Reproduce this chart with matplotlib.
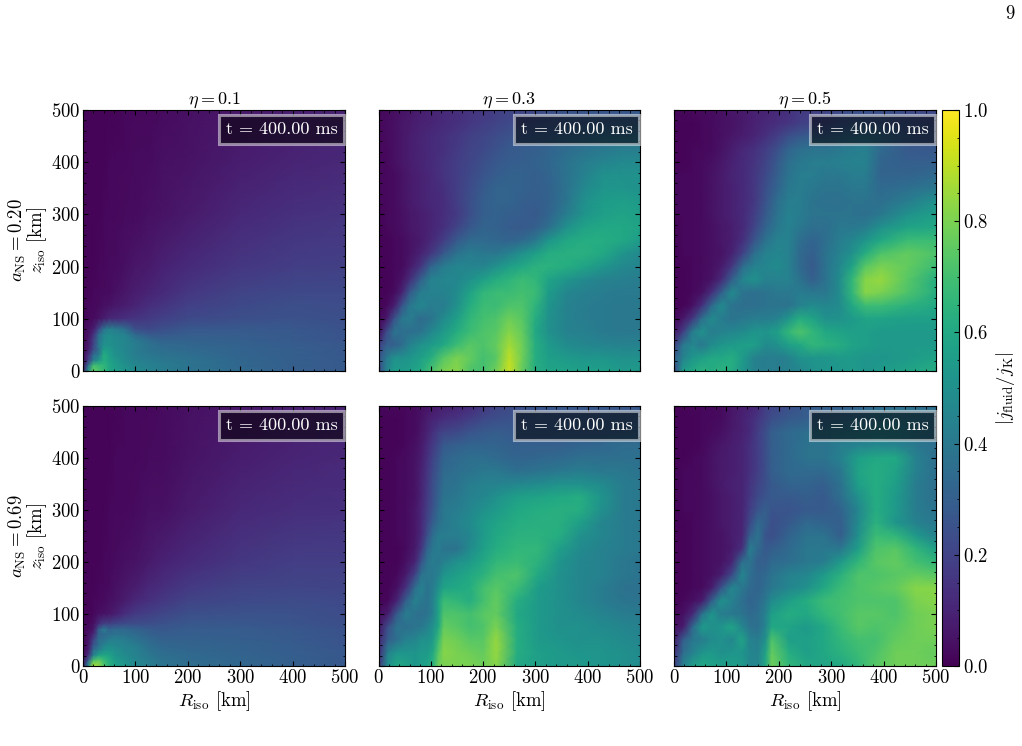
import numpy as np
import matplotlib
matplotlib.use("Agg")
import matplotlib.pyplot as plt
from matplotlib.ticker import MultipleLocator

plt.rcParams['font.family'] = ['cmr10', 'DejaVu Serif']
plt.rcParams['mathtext.fontset'] = 'cm'
plt.rcParams['axes.formatter.use_mathtext'] = True
plt.rcParams['axes.unicode_minus'] = False

# sample positions, km (read along the features, so they differ per panel)
z_fine = [500, 475, 450, 425, 400, 375, 350, 325, 300, 275, 250, 225, 200, 175, 150, 125, 100, 75, 50, 25, 0]
r_a020_eta03 = [0, 15, 30, 45, 60, 80, 100, 125, 150, 175, 200, 225, 250, 275, 300, 325, 360, 395, 430, 465, 500]
r_a020_eta05 = [0, 17, 35, 53, 72, 90, 110, 132, 153, 175, 197, 218, 240, 265, 290, 315, 340, 365, 395, 445, 500]
r_a069_eta03 = [0, 18, 35, 52, 70, 82, 93, 104, 115, 125, 150, 175, 200, 225, 265, 305, 345, 385, 425, 465, 500]
r_a069_eta05 = [0, 18, 36, 54, 72, 90, 110, 130, 145, 160, 175, 187, 220, 253, 286, 319, 352, 385, 423, 461, 500]
r_low = [0, 10, 20, 30, 40, 50, 60, 80, 100, 125, 150, 200, 300, 400, 500]
z_low = [500, 400, 300, 200, 150, 125, 100, 80, 70, 60, 50, 40, 30, 20, 10, 0]

# |j_fluid/j_K| in percent, rows go from the top of the panel down
a020_eta01 = [
    [1, 1, 1, 1, 1, 1, 1, 2, 2, 2, 3, 4, 6, 8, 9],
    [1, 1, 1, 1, 1, 2, 2, 2, 3, 3, 4, 5, 8, 10, 11],
    [1, 1, 1, 1, 2, 2, 2, 3, 3, 4, 5, 7, 11, 14, 15],
    [1, 1, 1, 2, 2, 3, 3, 4, 6, 7, 9, 12, 16, 18, 19],
    [1, 1, 2, 2, 3, 3, 4, 6, 8, 10, 12, 16, 20, 22, 22],
    [1, 2, 2, 3, 4, 5, 6, 8, 10, 13, 15, 19, 22, 24, 23],
    [1, 2, 3, 5, 8, 11, 12, 14, 15, 17, 19, 22, 24, 25, 24],
    [2, 4, 8, 22, 38, 44, 42, 36, 24, 22, 24, 27, 28, 27, 25],
    [2, 5, 14, 34, 46, 48, 46, 44, 33, 28, 27, 29, 29, 28, 26],
    [2, 6, 18, 38, 48, 50, 48, 46, 40, 34, 31, 31, 30, 28, 26],
    [3, 6, 20, 40, 50, 50, 48, 46, 42, 38, 34, 33, 31, 29, 27],
    [3, 8, 24, 36, 56, 54, 50, 46, 42, 38, 36, 34, 32, 30, 27],
    [3, 14, 36, 42, 62, 56, 50, 47, 42, 40, 38, 36, 32, 30, 27],
    [3, 18, 42, 52, 62, 58, 54, 48, 44, 42, 40, 38, 33, 30, 28],
    [4, 36, 70, 68, 66, 60, 56, 50, 46, 44, 42, 38, 33, 30, 28],
    [10, 50, 76, 72, 66, 60, 56, 52, 48, 44, 42, 38, 34, 30, 28],
]
a069_eta01 = [
    [1, 1, 1, 1, 1, 1, 1, 2, 2, 2, 3, 4, 6, 8, 9],
    [1, 1, 1, 1, 1, 1, 2, 2, 2, 3, 3, 5, 8, 10, 11],
    [1, 1, 1, 1, 1, 2, 2, 2, 3, 4, 4, 7, 11, 13, 14],
    [1, 1, 1, 1, 2, 2, 3, 4, 5, 7, 9, 12, 16, 18, 18],
    [1, 1, 1, 2, 2, 3, 4, 6, 8, 11, 13, 17, 20, 21, 20],
    [1, 1, 2, 2, 3, 4, 5, 8, 11, 14, 16, 20, 22, 23, 22],
    [1, 1, 2, 4, 5, 6, 8, 13, 17, 19, 21, 24, 25, 25, 23],
    [2, 2, 4, 14, 20, 20, 22, 24, 24, 24, 25, 27, 27, 26, 24],
    [2, 3, 6, 30, 42, 32, 34, 34, 32, 29, 27, 29, 29, 27, 25],
    [2, 4, 12, 32, 34, 36, 38, 37, 35, 31, 29, 30, 29, 28, 25],
    [2, 5, 20, 36, 38, 42, 44, 42, 38, 34, 31, 31, 30, 28, 26],
    [2, 6, 26, 36, 44, 48, 46, 44, 42, 36, 33, 32, 31, 29, 26],
    [2, 8, 36, 44, 50, 52, 50, 46, 44, 38, 35, 33, 31, 29, 27],
    [3, 14, 44, 58, 60, 58, 52, 48, 44, 40, 36, 34, 32, 30, 27],
    [4, 30, 72, 76, 68, 62, 56, 50, 46, 42, 38, 35, 33, 30, 27],
    [10, 50, 88, 84, 72, 64, 58, 52, 47, 43, 39, 36, 33, 30, 27],
]
a020_eta03 = [
    [2, 3, 4, 5, 6, 8, 10, 12, 13, 15, 16, 18, 20, 20, 22, 24, 25, 26, 26, 26, 27],
    [2, 3, 4, 6, 7, 9, 10, 12, 14, 16, 18, 20, 22, 23, 24, 25, 27, 28, 29, 30, 30],
    [2, 3, 4, 6, 8, 10, 12, 14, 16, 19, 21, 23, 25, 27, 28, 29, 31, 33, 35, 35, 36],
    [2, 2, 4, 6, 8, 10, 12, 14, 17, 20, 22, 25, 28, 29, 30, 32, 35, 38, 40, 42, 42],
    [2, 2, 4, 6, 8, 10, 12, 15, 18, 21, 24, 27, 29, 30, 31, 33, 38, 42, 45, 47, 48],
    [2, 2, 3, 5, 7, 9, 11, 15, 18, 22, 26, 29, 31, 31, 30, 32, 38, 44, 50, 50, 50],
    [2, 2, 3, 5, 7, 9, 11, 14, 18, 23, 28, 32, 32, 31, 30, 31, 38, 47, 52, 52, 50],
    [2, 2, 3, 5, 7, 9, 11, 13, 18, 24, 30, 32, 32, 30, 29, 31, 39, 50, 55, 56, 54],
    [1, 2, 3, 4, 6, 8, 10, 13, 17, 24, 30, 31, 30, 29, 28, 32, 42, 52, 56, 58, 56],
    [1, 2, 3, 4, 6, 8, 10, 14, 20, 27, 32, 31, 29, 28, 30, 36, 50, 58, 60, 60, 58],
    [1, 1, 2, 3, 5, 7, 11, 18, 28, 34, 34, 33, 32, 34, 40, 52, 60, 62, 62, 60, 55],
    [1, 1, 2, 3, 5, 9, 16, 28, 38, 42, 40, 40, 44, 50, 56, 62, 63, 63, 60, 52, 47],
    [1, 1, 2, 3, 7, 15, 32, 42, 46, 45, 45, 50, 56, 60, 64, 64, 62, 58, 52, 47, 45],
    [1, 1, 2, 5, 13, 30, 44, 46, 46, 50, 56, 62, 65, 68, 66, 58, 52, 47, 44, 43, 42],
    [1, 1, 3, 10, 28, 42, 44, 44, 48, 58, 66, 68, 68, 70, 68, 55, 46, 43, 42, 41, 41],
    [1, 2, 8, 26, 40, 46, 42, 42, 50, 62, 68, 68, 72, 72, 65, 52, 44, 42, 41, 40, 40],
    [2, 6, 25, 40, 42, 35, 38, 48, 56, 66, 70, 72, 78, 74, 62, 50, 44, 42, 41, 40, 40],
    [3, 22, 38, 36, 36, 38, 46, 54, 62, 68, 72, 74, 82, 76, 60, 50, 44, 43, 41, 40, 40],
    [18, 30, 30, 35, 44, 50, 54, 60, 68, 74, 72, 76, 86, 78, 62, 54, 48, 46, 45, 44, 44],
    [25, 40, 50, 50, 52, 56, 62, 74, 80, 76, 70, 74, 90, 78, 62, 56, 54, 52, 52, 50, 50],
    [20, 45, 55, 55, 56, 60, 70, 80, 82, 72, 70, 78, 92, 76, 62, 58, 58, 56, 56, 54, 54],
]
a020_eta05 = [
    [2, 2, 2, 3, 3, 4, 6, 7, 9, 10, 12, 14, 17, 18, 20, 22, 24, 24, 24, 22, 22],
    [1, 1, 1, 2, 3, 4, 5, 7, 9, 11, 13, 15, 18, 20, 22, 25, 27, 27, 26, 25, 24],
    [1, 1, 1, 2, 3, 4, 6, 8, 10, 14, 18, 24, 27, 29, 30, 32, 34, 36, 34, 28, 25],
    [1, 1, 2, 2, 3, 5, 8, 11, 14, 18, 24, 32, 36, 38, 38, 40, 42, 43, 34, 28, 27],
    [1, 1, 2, 3, 4, 6, 9, 12, 15, 20, 28, 36, 40, 42, 42, 43, 44, 44, 32, 30, 30],
    [2, 2, 2, 3, 5, 7, 10, 12, 16, 22, 30, 38, 42, 42, 40, 40, 42, 42, 32, 32, 34],
    [2, 2, 2, 3, 5, 7, 9, 12, 16, 24, 32, 40, 42, 40, 38, 38, 40, 40, 34, 36, 40],
    [2, 2, 2, 3, 5, 7, 9, 12, 16, 26, 36, 42, 42, 38, 37, 37, 38, 38, 36, 42, 50],
    [2, 2, 2, 3, 5, 7, 9, 12, 18, 28, 38, 44, 42, 38, 38, 38, 38, 36, 40, 50, 56],
    [1, 2, 2, 3, 4, 6, 8, 12, 20, 32, 40, 44, 40, 36, 36, 40, 40, 42, 50, 58, 60],
    [1, 2, 2, 3, 4, 6, 8, 14, 26, 38, 44, 44, 36, 32, 36, 42, 46, 52, 60, 68, 68],
    [1, 2, 2, 3, 4, 5, 9, 20, 36, 44, 46, 44, 34, 30, 38, 44, 50, 62, 72, 76, 72],
    [1, 1, 2, 3, 4, 7, 16, 36, 44, 46, 48, 44, 34, 28, 38, 46, 58, 74, 80, 76, 68],
    [1, 1, 2, 3, 5, 12, 30, 46, 50, 44, 44, 44, 38, 30, 38, 48, 66, 82, 84, 74, 62],
    [1, 1, 2, 4, 14, 30, 48, 38, 36, 38, 40, 40, 42, 40, 40, 48, 66, 82, 80, 72, 62],
    [1, 1, 4, 14, 34, 48, 38, 36, 36, 38, 38, 38, 44, 48, 46, 48, 60, 68, 68, 64, 60],
    [2, 6, 16, 36, 48, 42, 38, 40, 42, 42, 44, 52, 62, 58, 50, 50, 54, 58, 58, 56, 56],
    [6, 18, 42, 50, 42, 44, 46, 48, 52, 52, 56, 66, 72, 66, 60, 58, 56, 56, 54, 54, 54],
    [18, 40, 46, 40, 48, 52, 54, 56, 56, 48, 50, 56, 60, 66, 64, 62, 58, 56, 54, 54, 54],
    [30, 44, 52, 56, 60, 60, 62, 54, 44, 42, 42, 44, 50, 52, 52, 54, 54, 52, 52, 54, 58],
    [20, 55, 60, 64, 62, 64, 62, 52, 44, 42, 42, 44, 46, 50, 52, 52, 54, 52, 54, 58, 62],
]
a069_eta03 = [
    [2, 2, 2, 2, 3, 4, 5, 6, 8, 8, 10, 12, 16, 20, 24, 26, 27, 27, 27, 27, 27],
    [1, 1, 1, 2, 3, 5, 8, 10, 11, 13, 15, 18, 22, 24, 26, 27, 27, 28, 28, 28, 28],
    [1, 1, 1, 2, 3, 6, 9, 14, 18, 20, 22, 26, 28, 29, 28, 28, 29, 29, 29, 30, 31],
    [1, 1, 1, 2, 4, 7, 12, 17, 22, 28, 30, 32, 32, 32, 30, 30, 30, 32, 33, 35, 35],
    [1, 1, 2, 3, 5, 8, 14, 20, 26, 32, 34, 36, 36, 34, 32, 33, 34, 36, 36, 36, 37],
    [1, 1, 2, 3, 5, 9, 15, 22, 28, 34, 36, 38, 40, 40, 36, 38, 40, 42, 40, 40, 38],
    [1, 1, 2, 3, 5, 10, 16, 24, 30, 36, 38, 42, 44, 44, 46, 48, 50, 50, 48, 42, 40],
    [1, 1, 2, 3, 5, 10, 17, 24, 32, 38, 40, 44, 46, 50, 56, 58, 60, 62, 52, 42, 40],
    [1, 1, 2, 3, 6, 11, 18, 26, 34, 40, 42, 46, 50, 54, 60, 62, 63, 62, 50, 42, 40],
    [1, 1, 2, 3, 6, 11, 20, 30, 36, 40, 44, 48, 54, 58, 62, 63, 63, 56, 46, 42, 40],
    [1, 1, 2, 3, 6, 12, 24, 36, 42, 42, 42, 46, 54, 60, 64, 64, 62, 50, 46, 42, 40],
    [1, 1, 1, 3, 7, 16, 32, 40, 42, 38, 38, 48, 56, 62, 66, 66, 56, 48, 44, 42, 40],
    [1, 1, 1, 4, 10, 26, 38, 42, 40, 44, 50, 54, 60, 66, 68, 64, 52, 46, 44, 40, 38],
    [1, 1, 2, 7, 20, 38, 40, 40, 44, 52, 56, 60, 64, 70, 72, 60, 50, 46, 44, 40, 38],
    [1, 1, 4, 14, 36, 44, 38, 42, 50, 58, 60, 62, 70, 74, 68, 55, 50, 46, 42, 38, 37],
    [1, 2, 10, 30, 44, 40, 38, 44, 58, 68, 66, 62, 70, 76, 62, 54, 50, 46, 42, 39, 38],
    [4, 8, 28, 42, 38, 36, 38, 44, 58, 72, 72, 70, 74, 76, 60, 54, 50, 48, 45, 42, 41],
    [5, 24, 38, 36, 38, 40, 44, 50, 60, 76, 74, 70, 72, 80, 62, 54, 50, 50, 48, 46, 44],
    [10, 30, 36, 44, 46, 50, 50, 54, 68, 80, 78, 74, 74, 84, 62, 54, 52, 50, 50, 48, 46],
    [12, 44, 52, 52, 52, 54, 54, 60, 74, 82, 80, 78, 76, 84, 62, 56, 54, 52, 52, 50, 48],
    [15, 50, 60, 58, 52, 56, 58, 64, 78, 80, 80, 80, 78, 82, 60, 56, 54, 54, 52, 50, 48],
]
a069_eta05 = [
    [1, 1, 2, 2, 2, 3, 6, 8, 9, 12, 18, 20, 24, 28, 30, 30, 32, 35, 36, 36, 37],
    [1, 1, 1, 2, 2, 3, 6, 9, 12, 16, 20, 24, 28, 30, 32, 34, 36, 38, 40, 38, 36],
    [1, 1, 1, 2, 3, 4, 7, 9, 12, 18, 24, 30, 34, 36, 38, 40, 42, 44, 44, 40, 36],
    [1, 1, 1, 2, 4, 6, 8, 10, 14, 18, 24, 30, 34, 38, 38, 42, 44, 46, 44, 40, 36],
    [1, 1, 2, 3, 5, 7, 8, 10, 14, 18, 24, 30, 34, 38, 38, 44, 56, 60, 60, 44, 36],
    [1, 2, 2, 3, 5, 7, 8, 10, 14, 18, 24, 30, 34, 34, 34, 40, 58, 62, 58, 44, 36],
    [1, 2, 2, 3, 5, 7, 9, 10, 15, 20, 24, 28, 32, 32, 30, 38, 56, 62, 56, 42, 36],
    [1, 2, 2, 3, 4, 6, 8, 10, 16, 22, 26, 28, 28, 30, 28, 36, 50, 62, 54, 42, 36],
    [1, 2, 2, 3, 4, 6, 8, 10, 18, 26, 30, 26, 26, 28, 28, 32, 46, 62, 54, 42, 38],
    [1, 1, 2, 3, 4, 6, 8, 10, 22, 34, 30, 24, 28, 34, 32, 30, 48, 64, 52, 44, 40],
    [1, 1, 2, 3, 4, 5, 8, 10, 30, 38, 26, 24, 32, 38, 38, 30, 50, 68, 66, 54, 44],
    [1, 1, 2, 3, 4, 5, 7, 14, 42, 34, 28, 30, 34, 40, 40, 40, 56, 72, 74, 66, 56],
    [1, 1, 2, 3, 4, 5, 10, 36, 38, 30, 30, 34, 36, 40, 42, 54, 66, 74, 76, 70, 66],
    [1, 1, 2, 3, 4, 8, 22, 46, 36, 32, 34, 38, 44, 46, 54, 64, 72, 72, 74, 76, 74],
    [1, 1, 2, 3, 8, 26, 46, 40, 34, 32, 36, 40, 46, 50, 60, 68, 72, 74, 76, 82, 82],
    [1, 2, 4, 8, 30, 50, 44, 36, 32, 34, 40, 48, 56, 62, 68, 70, 72, 72, 72, 80, 82],
    [2, 4, 12, 38, 52, 42, 40, 38, 34, 36, 44, 56, 62, 60, 66, 70, 74, 74, 72, 78, 80],
    [4, 8, 34, 54, 50, 52, 58, 46, 38, 36, 46, 60, 58, 54, 60, 68, 74, 72, 74, 78, 80],
    [8, 30, 40, 42, 48, 50, 46, 58, 44, 42, 50, 72, 56, 56, 60, 66, 70, 70, 76, 78, 78],
    [14, 36, 44, 52, 54, 50, 52, 52, 46, 44, 58, 76, 62, 56, 60, 64, 68, 72, 78, 78, 76],
    [18, 44, 56, 60, 58, 56, 56, 54, 46, 46, 60, 78, 66, 60, 58, 60, 66, 74, 78, 78, 78],
]

etas = ["0.1", "0.3", "0.5"]
spins = ["0.20", "0.69"]
time_label = "t = 400.00 ms"
W, H = 1022, 746


def make_axes(x0, x1, y0, y1):
    return fig.add_axes([x0 / W, 1 - y1 / H, (x1 - x0) / W, (y1 - y0) / H])


fig = plt.figure(figsize=(W / 100, H / 100), dpi=100)

lefts = [(83, 345), (378.5, 640), (674, 936)]
tops = [(110, 371), (406, 666)]
rows = [
    [(r_low, z_low, a020_eta01), (r_a020_eta03, z_fine, a020_eta03), (r_a020_eta05, z_fine, a020_eta05)],
    [(r_low, z_low, a069_eta01), (r_a069_eta03, z_fine, a069_eta03), (r_a069_eta05, z_fine, a069_eta05)],
]

for i in range(2):
    for j in range(3):
        ax = make_axes(lefts[j][0], lefts[j][1], tops[i][0], tops[i][1])
        r, z, vals = rows[i][j]
        pc = ax.pcolormesh(r, z, np.array(vals) / 100.0, cmap="viridis", vmin=0, vmax=1,
                           shading="gouraud", rasterized=True)
        ax.set_xlim(0, 500)
        ax.set_ylim(0, 500)
        ax.xaxis.set_major_locator(MultipleLocator(100))
        ax.yaxis.set_major_locator(MultipleLocator(100))
        ax.xaxis.set_minor_locator(MultipleLocator(20))
        ax.yaxis.set_minor_locator(MultipleLocator(20))
        ax.tick_params(which="both", direction="in", top=True, right=True, color="k")
        ax.tick_params(which="major", length=3.5, width=0.8, labelsize=13.5, pad=2)
        ax.tick_params(which="minor", length=1.8, width=0.6)
        if i == 0:
            ax.set_title(r"$\eta = %s$" % etas[j], fontsize=13, pad=3)
            ax.tick_params(labelbottom=False)
        else:
            ax.set_xlabel(r"$R_{\rm iso}$ [km]", fontsize=13.5, labelpad=2)
        if j == 0:
            ax.set_ylabel("$a_{\\rm NS} = %s$\n$z_{\\rm iso}$ [km]" % spins[i], fontsize=13.5,
                          labelpad=1, linespacing=0.85)
        else:
            ax.tick_params(labelleft=False)
        ax.text(0.7576, 0.925, time_label, transform=ax.transAxes, ha="center", va="center",
                color="white", fontsize=13,
                bbox=dict(boxstyle="square,pad=0.36", facecolor=(0, 0, 0, 0.55),
                          edgecolor=(1, 1, 1, 0.5), linewidth=2.2))

cax = make_axes(942, 959, 110, 666)
cb = fig.colorbar(pc, cax=cax)
cb.set_ticks([0.0, 0.2, 0.4, 0.6, 0.8, 1.0])
cb.ax.yaxis.set_minor_locator(MultipleLocator(0.05))
cb.ax.tick_params(which="both", direction="in", color="k")
cb.ax.tick_params(which="major", length=3.5, width=0.8, labelsize=13.5, pad=3)
cb.ax.tick_params(which="minor", length=1.8, width=0.6)
cb.set_label(r"$|j_{\rm fluid}/j_{\rm K}|$", fontsize=13.5, labelpad=4)

# page number from the paper
fig.text(1010 / W, 1 - 14 / H, "9", ha="center", va="center", fontsize=13.5)

fig.savefig("out.png", dpi=100)
